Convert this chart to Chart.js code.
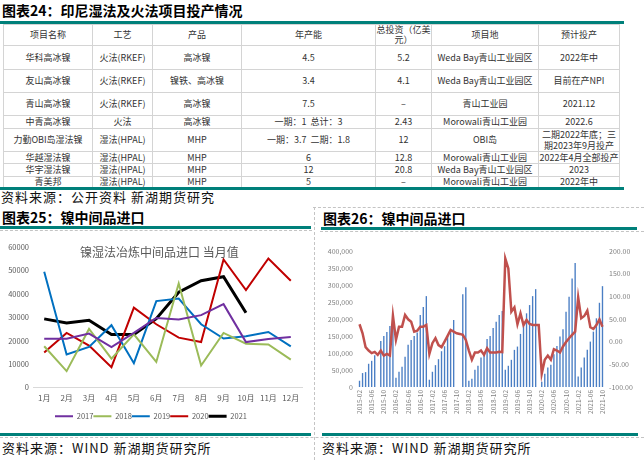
<!DOCTYPE html>
<html>
<head>
<meta charset="utf-8">
<script src="https://cdn.jsdelivr.net/npm/chart.js@4.4.0/dist/chart.umd.min.js"></script>
<style>
html, body { margin: 0; padding: 0; background: #fff; }
body { width: 644px; height: 460px; position: relative; overflow: hidden;
       font-family: "Noto Sans CJK SC", "Noto Sans", sans-serif; }
.abs { position: absolute; }
.ttl { font-weight: 700; font-size: 14px; line-height: 16px; color: #000; white-space: nowrap; }
.teal { height: 3px; background: #00807a; }
.dh { height: 0; border-top: 1px dashed #c4c4c4; }
.dv { width: 0; border-left: 1px dashed #c4c4c4; }
.src { font-size: 13px; line-height: 15px; color: #111; letter-spacing: 1px; white-space: nowrap; }
table { border-collapse: collapse; table-layout: fixed; width: 616px; }
td { border: 1px solid #d4d4d4; padding: 0; text-align: center; font-size: 9px; line-height: 10px;
     color: #333; white-space: nowrap; overflow: hidden; }
td.wrap { white-space: normal; word-break: break-all; }
#t25 { font-size: 12px; color: #595959; line-height: 14px; white-space: nowrap; }
</style>
</head>
<body>

<div class="abs ttl" style="left:2px; top:2px;">图表24：印尼湿法及火法项目投产情况</div>
<div class="abs teal" style="left:0; top:21px; width:624px;"></div>

<table class="abs" style="left:3px; top:24px;">
  <colgroup>
    <col style="width:89px"><col style="width:60px"><col style="width:89px"><col style="width:134px">
    <col style="width:56px"><col style="width:107px"><col style="width:81px">
  </colgroup>
  <tr style="height:20px"><td>项目名称</td><td>工艺</td><td>产品</td><td>年产能</td><td class="wrap">总投资（亿美元）</td><td>项目地</td><td>预计投产</td></tr>
  <tr style="height:24px"><td>华科高冰镍</td><td>火法(RKEF)</td><td>高冰镍</td><td>4.5</td><td>5.2</td><td>Weda Bay青山工业园区</td><td>2022年中</td></tr>
  <tr style="height:23px"><td>友山高冰镍</td><td>火法(RKEF)</td><td>镍铁、高冰镍</td><td>3.4</td><td>4.1</td><td>Weda Bay青山工业园区</td><td>目前在产NPI</td></tr>
  <tr style="height:23px"><td>青山高冰镍</td><td>火法(RKEF)</td><td>高冰镍</td><td>7.5</td><td>–</td><td>青山工业园</td><td>2021.12</td></tr>
  <tr style="height:13px"><td>中青高冰镍</td><td>火法</td><td>高冰镍</td><td>一期：1&nbsp;&nbsp;总计：3</td><td>2.43</td><td>Morowali青山工业园</td><td>2022.6</td></tr>
  <tr style="height:22px"><td>力勤OBI岛湿法镍</td><td>湿法(HPAL)</td><td>MHP</td><td>一期：3.7&nbsp;&nbsp;二期：1.8</td><td>12</td><td>OBI岛</td><td class="wrap" style="line-height:11px">二期2022年底；三期2023年9月投产</td></tr>
  <tr style="height:12px"><td>华越湿法镍</td><td>湿法(HPAL)</td><td>MHP</td><td>6</td><td>12.8</td><td>Morowali青山工业园</td><td>2022年4月全部投产</td></tr>
  <tr style="height:13px"><td>华宇湿法镍</td><td>湿法(HPAL)</td><td>MHP</td><td>12</td><td>20.8</td><td>Weda Bay青山工业园区</td><td>2023</td></tr>
  <tr style="height:10px"><td>青美邦</td><td>湿法(HPAL)</td><td>MHP</td><td>5</td><td>–</td><td>Morowali青山工业园</td><td>2022年中</td></tr>
</table>

<div class="abs teal" style="left:0; top:187px; width:624px;"></div>
<div class="abs src" style="left:1px; top:189px;">资料来源：公开资料 新湖期货研究</div>

<!-- panel frames -->
<div class="abs dh" style="left:313px; top:207px; width:331px;"></div>
<div class="abs dv" style="left:314px; top:207px; height:253px;"></div>
<div class="abs dh" style="left:0; top:230px; width:312px;"></div>
<div class="abs dh" style="left:320px; top:231px; width:324px;"></div>
<div class="abs dh" style="left:0; top:437px; width:644px;"></div>

<div class="abs ttl" style="left:2px; top:209px;">图表25：镍中间品进口</div>
<div class="abs teal" style="left:0; top:226px; width:311px;"></div>
<div class="abs ttl" style="left:323px; top:210px;">图表26：镍中间品进口</div>
<div class="abs teal" style="left:321px; top:227px; width:316px;"></div>

<canvas id="c25" class="abs" style="left:0; top:231px;" width="313" height="202"></canvas>
<div id="t25" class="abs" style="left:80px; top:245px;">镍湿法冶炼中间品进口 当月值</div>
<canvas id="c26" class="abs" style="left:321px; top:231px;" width="323" height="202"></canvas>

<div class="abs teal" style="left:0; top:433px; width:311px;"></div>
<div class="abs teal" style="left:322px; top:433px; width:316px;"></div>
<div class="abs src" style="left:2px; top:440px;">资料来源：WIND 新湖期货研究所</div>
<div class="abs src" style="left:322px; top:440px;">资料来源：WIND 新湖期货研究所</div>

<script>
// chart 25: monthly imports by year
var months = ['1月', '2月', '3月', '4月', '5月', '6月', '7月', '8月', '9月', '10月', '11月', '12月'];
var imp2017 = [20800, 20800, 23000, 17300, 23300, 29700, 29000, 30900, 35600, 19400, 20700, 21600];
var imp2018 = [17600, 7000, 25000, 12300, 22700, 10900, 44400, 9400, 23300, 18700, 18400, 11900];
var imp2019 = [49400, 14100, 17300, 26600, 10400, 36900, 38000, 27000, 20900, 21900, 23700, 17600];
var imp2020 = [14900, 23300, 17900, 8700, 34100, 27000, 21300, 19400, 54700, 41600, 55100, 45600];
var imp2021 = [29300, 27600, 28700, 22600, 22600, 29400, 40700, 45600, 47300, 31900, null, null];

// chart 26: cumulative volume (bars, left) and yoy (line, right)
var periods = [];
for (var y = 2015; y <= 2021; y++) {
    for (var m = 1; m <= 12; m++) {
        var p = y * 100 + m;
        if (p >= 201502 && p <= 202110) periods.push(y + '-' + (m < 10 ? '0' + m : m));
    }
}
var cumVolume = [
    18400, 41000, 43800, 68300, 77000, 93700, null, 135600, 150200, 162000, 179500, 197000,
    27300, 44800, 59400, 88700, 123900, 138500, 150200, 160000, 211700, 235100, 267300,
    21400, 44800, 64300, 81800, 105300, 119900, 150000, 165000, 197000, null, null, 273000, 293600,
    18400, 24300, 50700, 62400, 86800, 99600, 141400, 150200, 173600, 192100, 211700, 223400,
    50700, 62400, 79900, 109200, 118900, 156100, 189200, 216700, 241000, 267300, 287800, null,
    15500, 38900, 57400, 65300, 96600, 120900, 148200, 169800, 221400, 265300, 319200, 364800,
    31000, 57400, 86700, 109200, 133500, 162800, 202000, 247700, 296600
];
var yoyRate = [
    38.4, 18.6, -12.1, -19.6, -25.3, -22.5, -29.1, -19.6, -30.6, -26.9, -30.6,
    57.3,
    3.9, 33.1, 33.1, 58.8, 49.3, 44.1, 22.1, 24.3, 33.1, 33.1, 36.8,
    -26.9, -3.4, 7.6, -7.6, -12.1, 0, 12.7, 25.9, 22.1, 18.6, 17.1, 15, 3.9,
    -19.6, -39.8, -24, -24, -19.6, -29.1, -14.5, -24, -24, -24, -22.5, -23,
    183.3, 161.4, 66, 75.6, 38.4, 62.5, 36.8, 47.8, 39, 36.8, 36.8, 36.8,
    -70.8, -39.8, -30.6, -39.8, -16.5, -19.6, -24, -10.6, -0.7, 7.6, 15, 22.1,
    97.7, 51.5, 56.6, 68.3, 31.8, 28.1, 36.8, 49.3, 33.1
];

Chart.defaults.font.family = '"Noto Sans CJK SC", "Noto Sans", sans-serif';

function yearLine(label, data, color, width) {
    return {
        label: label,
        data: data,
        borderColor: color,
        backgroundColor: color,
        borderWidth: width,
        pointRadius: 0,
        tension: 0
    };
}

new Chart(document.getElementById('c25'), {
    type: 'line',
    data: {
        labels: months,
        datasets: [
            yearLine('2017', imp2017, '#7030a0', 2),
            yearLine('2018', imp2018, '#9bbb59', 2),
            yearLine('2019', imp2019, '#0070c0', 2),
            yearLine('2020', imp2020, '#c00000', 2),
            yearLine('2021', imp2021, '#000000', 3)
        ]
    },
    options: {
        responsive: false,
        animation: false,
        layout: { padding: { top: 16, right: 11, bottom: 3, left: 0 } },
        plugins: {
            tooltip: { enabled: false },
            legend: {
                position: 'bottom',
                labels: {
                    usePointStyle: true,
                    pointStyle: 'line',
                    pointStyleWidth: 18,
                    padding: 0,
                    color: '#595959',
                    font: { size: 7.5 }
                }
            }
        },
        scales: {
            x: {
                offset: true,
                grid: { display: false, drawTicks: false },
                border: { color: '#d9d9d9' },
                ticks: { color: '#595959', font: { size: 8 }, padding: 6, maxRotation: 0, autoSkip: false },
                afterFit: function(s) { s.height = 25; }
            },
            y: {
                min: 0,
                max: 60000,
                grid: { display: false, drawTicks: false },
                border: { display: false },
                ticks: { stepSize: 10000, color: '#595959', font: { size: 7.5 }, padding: 4,
                         callback: function(v) { return String(v); } },
                afterFit: function(s) { s.width = 33; }
            }
        }
    }
});

new Chart(document.getElementById('c26'), {
    type: 'bar',
    data: {
        labels: periods,
        datasets: [
            {
                type: 'line',
                data: yoyRate,
                yAxisID: 'y1',
                borderColor: '#c0504d',
                borderWidth: 2.5,
                pointRadius: 0,
                tension: 0,
                order: 0
            },
            {
                type: 'bar',
                data: cumVolume,
                yAxisID: 'y',
                backgroundColor: '#4a7ec4',
                barPercentage: 0.45,
                categoryPercentage: 1,
                order: 1
            }
        ]
    },
    options: {
        responsive: false,
        animation: false,
        layout: { padding: { top: 20, right: 4, bottom: 10, left: 0 } },
        plugins: { legend: { display: false }, tooltip: { enabled: false } },
        scales: {
            x: {
                grid: { display: false, drawTicks: false },
                border: { display: false },
                ticks: {
                    autoSkip: false, minRotation: 90, maxRotation: 90,
                    color: '#808080', font: { size: 6.5 }, padding: 3,
                    callback: function(v, i) { return i % 4 === 0 ? periods[i] : null; }
                },
                afterFit: function(s) { s.height = 36; }
            },
            y: {
                position: 'left',
                min: 0,
                max: 400000,
                grid: { display: false, drawTicks: false },
                border: { display: false },
                ticks: { stepSize: 50000, color: '#808080', font: { size: 7 }, padding: 5,
                         callback: function(v) { return v.toLocaleString('en-US'); } },
                afterFit: function(s) { s.width = 37; }
            },
            y1: {
                position: 'right',
                min: -100,
                max: 200,
                grid: { display: false, drawTicks: false },
                border: { display: false },
                ticks: { stepSize: 50, color: '#808080', font: { size: 7 }, padding: 5,
                         callback: function(v) { return v.toFixed(2); } },
                afterFit: function(s) { s.width = 36; }
            }
        }
    }
});
</script>
</body>
</html>
